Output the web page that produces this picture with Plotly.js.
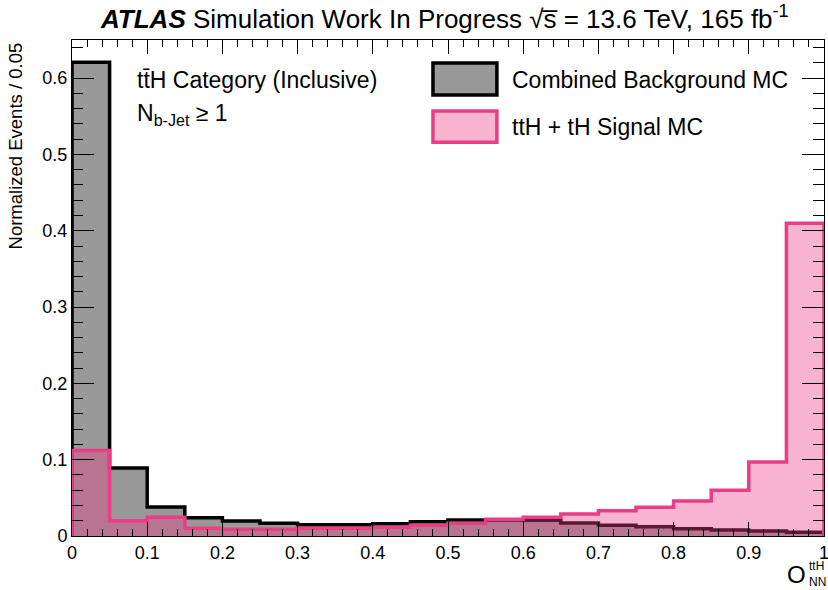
<!DOCTYPE html>
<html>
<head>
<meta charset="utf-8">
<script src="https://cdn.plot.ly/plotly-3.0.1.min.js"></script>
<style>html,body{margin:0;padding:0;background:#fff;}</style>
</head>
<body>
<div id="chart" style="width:828px;height:590px;"></div>
<script>
// Bin edges (low edges), bin width 0.05
const binLow = [0, 0.05, 0.1, 0.15, 0.2, 0.25, 0.3, 0.35, 0.4, 0.45, 0.5, 0.55, 0.6, 0.65, 0.7, 0.75, 0.8, 0.85, 0.9, 0.95];
const binHigh = 1.0;
const background = [0.621, 0.089, 0.038, 0.024, 0.0195, 0.0166, 0.0146, 0.0146, 0.0162, 0.0188, 0.021, 0.021, 0.0205, 0.017, 0.014, 0.012, 0.0096, 0.008, 0.0065, 0.005];
const signal = [0.112, 0.020, 0.0245, 0.010, 0.0087, 0.0087, 0.010, 0.010, 0.0114, 0.014, 0.0166, 0.022, 0.0245, 0.0288, 0.033, 0.0376, 0.0459, 0.060, 0.097, 0.41];
const xTickVals = [0, 0.1, 0.2, 0.3, 0.4, 0.5, 0.6, 0.7, 0.8, 0.9, 1];
const xTickText = ['0', '0.1', '0.2', '0.3', '0.4', '0.5', '0.6', '0.7', '0.8', '0.9', '1'];
const yTickVals = [0, 0.1, 0.2, 0.3, 0.4, 0.5, 0.6];
const yTickText = ['0', '0.1', '0.2', '0.3', '0.4', '0.5', '0.6'];

function histPath(vals) {
  const x = [binLow[0]], y = [0];
  for (let i = 0; i < vals.length; i++) { x.push(binLow[i]); y.push(vals[i]); }
  x.push(binHigh); y.push(vals[vals.length - 1]);
  x.push(binHigh); y.push(0);
  return {x, y};
}

const FONT = '"Liberation Sans", Arial, Helvetica, sans-serif';
const bg = histPath(background);
const sg = histPath(signal);

const traces = [
  {x: bg.x, y: bg.y, type: 'scatter', mode: 'lines', line: {shape: 'hv', color: '#000000', width: 3.5},
   fill: 'tozeroy', fillcolor: 'rgb(153,153,153)', name: 'Combined Background MC', hoverinfo: 'skip'},
  {x: sg.x, y: sg.y, type: 'scatter', mode: 'lines', line: {shape: 'hv', color: 'rgb(235,61,133)', width: 3.5},
   fill: 'tozeroy', fillcolor: 'rgba(235,61,133,0.39)', name: 'ttH + tH Signal MC', hoverinfo: 'skip'}
];

const layout = {
  width: 828, height: 590,
  margin: {l: 72, r: 4, t: 40, b: 54},
  paper_bgcolor: '#ffffff', plot_bgcolor: '#ffffff',
  showlegend: false,
  font: {family: FONT, color: '#000000', size: 18},
  xaxis: {
    range: [0, 1], tickvals: xTickVals, ticktext: xTickText,
    ticks: 'inside', ticklen: 14, tickwidth: 1, tickcolor: '#000',
    showline: true, linecolor: '#000', linewidth: 1, mirror: 'allticks',
    showgrid: false, zeroline: false, layer: 'above traces',
    tickfont: {size: 18, family: FONT}, ticklabeloverflow: 'allow',
    minor: {ticks: 'inside', ticklen: 7, dtick: 0.02, tick0: 0, tickcolor: '#000', tickwidth: 1, showgrid: false},
    fixedrange: true
  },
  yaxis: {
    range: [0, 0.65], tickvals: yTickVals, ticktext: yTickText,
    ticks: 'inside', ticklen: 22, tickwidth: 1, tickcolor: '#000',
    showline: true, linecolor: '#000', linewidth: 1, mirror: 'allticks',
    showgrid: false, zeroline: false, layer: 'above traces',
    tickfont: {size: 18, family: FONT}, ticklabeloverflow: 'allow',
    minor: {ticks: 'inside', ticklen: 11, dtick: 0.02, tick0: 0, tickcolor: '#000', tickwidth: 1, showgrid: false},
    fixedrange: true
  },
  shapes: [
    {type: 'rect', xref: 'paper', yref: 'paper', x0: 0.480, x1: 0.565, y0: 0.889, y1: 0.9536,
     fillcolor: 'rgb(153,153,153)', line: {color: '#000', width: 3.5}},
    {type: 'rect', xref: 'paper', yref: 'paper', x0: 0.480, x1: 0.565, y0: 0.794, y1: 0.857,
     fillcolor: 'rgba(235,61,133,0.39)', line: {color: 'rgb(235,61,133)', width: 3.5}}
  ],
  annotations: [
    {xref: 'paper', yref: 'paper', x: 0.0346, y: 1.046, xanchor: 'left', yanchor: 'middle', showarrow: false,
     text: '<b><i>ATLAS</i></b> Simulation Work In Progress √s\u0305 = 13.6 TeV, 165 fb<sup>-1</sup>',
     font: {size: 26, family: FONT, color: '#000'}},
    {xref: 'paper', yref: 'paper', x: 0.084, y: 0.919, xanchor: 'left', yanchor: 'middle', showarrow: false,
     text: 'tt\u0304H Category (Inclusive)', font: {size: 23, family: FONT, color: '#000'}},
    {xref: 'paper', yref: 'paper', x: 0.084, y: 0.85, xanchor: 'left', yanchor: 'middle', showarrow: false,
     text: 'N<sub>b-Jet</sub> ≥ 1', font: {size: 23, family: FONT, color: '#000'}},
    {xref: 'paper', yref: 'paper', x: 0.582, y: 0.919, xanchor: 'left', yanchor: 'middle', showarrow: false,
     text: 'Combined Background MC', font: {size: 23, family: FONT, color: '#000'}},
    {xref: 'paper', yref: 'paper', x: 0.582, y: 0.8246, xanchor: 'left', yanchor: 'middle', showarrow: false,
     text: 'ttH + tH Signal MC', font: {size: 23, family: FONT, color: '#000'}},
    {xref: 'paper', yref: 'paper', x: -0.0745, y: 1.0, xanchor: 'center', yanchor: 'top', showarrow: false,
     textangle: -90, text: 'Normalized Events / 0.05', font: {size: 18.5, family: FONT, color: '#000'}},
    {xref: 'paper', yref: 'paper', x: 0.9787, y: -0.0786, xanchor: 'right', yanchor: 'middle', showarrow: false,
     text: 'O', font: {size: 24, family: FONT, color: '#000'}},
    {xref: 'paper', yref: 'paper', x: 0.9774, y: -0.0605, xanchor: 'left', yanchor: 'middle', showarrow: false,
     text: 'ttH', font: {size: 12, family: FONT, color: '#000'}},
    {xref: 'paper', yref: 'paper', x: 0.9774, y: -0.0935, xanchor: 'left', yanchor: 'middle', showarrow: false,
     text: 'NN', font: {size: 12, family: FONT, color: '#000'}}
  ]
};

Plotly.newPlot('chart', traces, layout, {displayModeBar: false, staticPlot: true});
</script>
</body>
</html>
